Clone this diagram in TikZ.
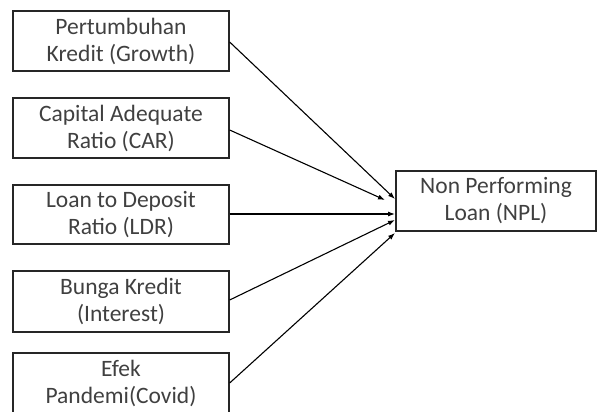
\documentclass[tikz,border=0pt]{standalone}
\usepackage{fontspec}
\setmainfont{Carlito}
\usetikzlibrary{arrows.meta}
\begin{document}
\begin{tikzpicture}[x=1pt,y=-1pt,
  box/.style={draw=black!85,line width=1.3pt,inner sep=0pt,align=center,font=\fontsize{23.5}{27}\selectfont,text=black!75},
  arr/.style={line width=1.1pt,-{Latex[length=7pt,width=5pt]}}]
\useasboundingbox (0,0) rectangle (597,412);
\node[box,minimum width=216pt,minimum height=60pt] (g) at (121,41) {Pertumbuhan\\Kredit (Growth)};
\node[box,minimum width=216pt,minimum height=60pt] (c) at (121,128) {Capital Adequate\\Ratio (CAR)};
\node[box,minimum width=216pt,minimum height=59pt] (l) at (121,214.5) {Loan to Deposit\\Ratio (LDR)};
\node[box,minimum width=216pt,minimum height=61pt] (i) at (121,301.5) {Bunga Kredit\\(Interest)};
\node[box,minimum width=216pt,minimum height=60pt] (e) at (121,383) {Efek\\Pandemi(Covid)};
\node[box,minimum width=200pt,minimum height=60pt] (n) at (496,201) {Non Performing\\Loan (NPL)};
\coordinate (tg) at (395,199);
\coordinate (tc) at (385,200);
\coordinate (tl) at (395,214);
\coordinate (ti) at (395,220);
\coordinate (te) at (395,233);
\draw[arr] (g.east |- 0,42) -- (tg);
\draw[arr] (c.east |- 0,130) -- (tc);
\draw[arr] (l.east |- 0,214) -- (tl);
\draw[arr] (i.east |- 0,300) -- (ti);
\draw[arr] (e.east |- 0,383) -- (te);
\end{tikzpicture}
\end{document}
